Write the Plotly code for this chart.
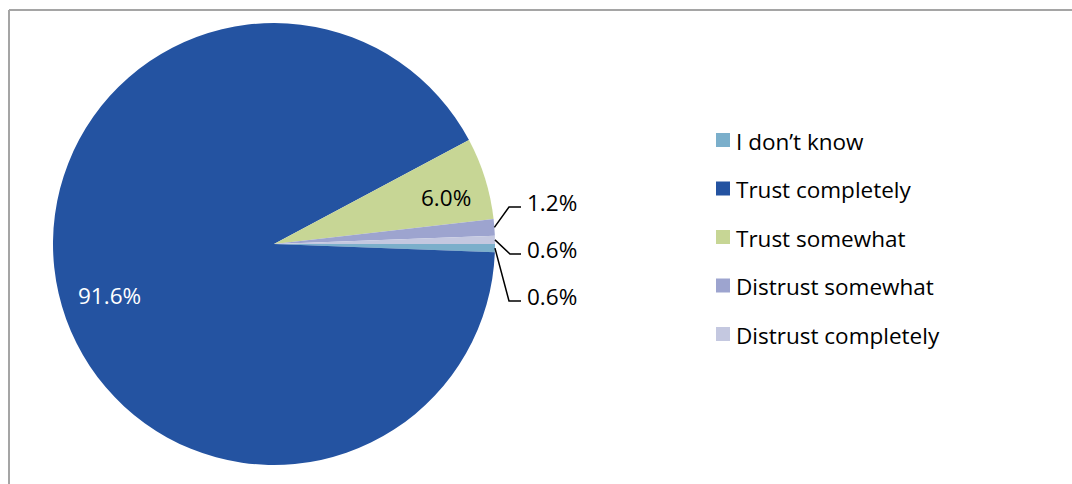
import math
import plotly.graph_objects as go

# data
labels = ["I don’t know", "Trust completely", "Trust somewhat",
          "Distrust somewhat", "Distrust completely"]
values = [0.6, 91.6, 6.0, 1.2, 0.6]
colors = ["#7BAFCB", "#2453A1", "#C7D695", "#9DA4CF", "#C4C8E0"]

W, H = 1072, 484
CX, CY, R = 274, 244, 221
FONT = "Open Sans"
FS = 22.5


def px(x):
    return x / W


def py(y):
    return 1 - y / H


fig = go.Figure(go.Pie(
    labels=labels, values=values, sort=False, direction="clockwise",
    rotation=90, textinfo="none", hoverinfo="label+percent",
    marker=dict(colors=colors, line=dict(width=0)),
    domain=dict(x=[px(CX - R), px(CX + R)], y=[py(CY + R), py(CY - R)]),
    showlegend=False,
))

# angle (deg, counterclockwise from 3 o'clock) of each slice's middle
total = sum(values)
mids = []
cum = 0
for v in values:
    mids.append(-(cum + v / 2) / total * 360)
    cum += v


def text_note(x, y, text, color="black", xanchor="center"):
    return dict(x=px(x), y=py(y), xref="paper", yref="paper",
                xanchor=xanchor, yanchor="middle", text=text, showarrow=False,
                font=dict(family=FONT, size=FS, color=color))


annotations = []
shapes = []

# inside labels (slice, colour, radius fraction, angle nudge)
for i, fc, rf, da in [(1, "white", 0.78, 4.6), (2, "black", 0.805, -2.3)]:
    a = math.radians(mids[i] + da)
    x = CX + rf * R * math.cos(a)
    y = CY - rf * R * math.sin(a)
    annotations.append(text_note(x, y - 1, f"{values[i]:.1f}%", fc))

# outside labels with leader lines (elbow x, label y)
outside = [(3, 509, 207), (4, 510, 254), (0, 509, 301)]
for i, ex, ly in outside:
    a = math.radians(mids[i])
    sx = CX + R * math.cos(a)
    sy = CY - R * math.sin(a)
    path = f"M {px(sx)},{py(sy)} L {px(ex)},{py(ly)} L {px(521)},{py(ly)}"
    shapes.append(dict(type="path", path=path, xref="paper", yref="paper",
                       line=dict(color="black", width=1.5)))
    annotations.append(text_note(525, ly - 5, f"{values[i]:.1f}%", xanchor="left"))

# legend drawn by hand to match spacing
for k, (lab, col) in enumerate(zip(labels, colors)):
    yc = 140 + k * 48.5
    shapes.append(dict(type="rect", xref="paper", yref="paper",
                       x0=px(716), x1=px(730), y0=py(yc + 7), y1=py(yc - 7),
                       fillcolor=col, line=dict(width=0)))
    annotations.append(text_note(734, yc + 1, lab, xanchor="left"))

# chart frame (top and left edges visible)
shapes.append(dict(type="line", xref="paper", yref="paper",
                   x0=px(9), x1=1, y0=py(10), y1=py(10),
                   line=dict(color="#A5A5A5", width=2)))
shapes.append(dict(type="line", xref="paper", yref="paper",
                   x0=px(9), x1=px(9), y0=py(10), y1=0,
                   line=dict(color="#A5A5A5", width=2)))

fig.update_layout(
    width=W, height=H, margin=dict(l=0, r=0, t=0, b=0),
    paper_bgcolor="white", plot_bgcolor="white",
    annotations=annotations, shapes=shapes,
)

fig.write_html("out.html", config={"displayModeBar": False},
               post_script="document.body.style.margin='0px';")
